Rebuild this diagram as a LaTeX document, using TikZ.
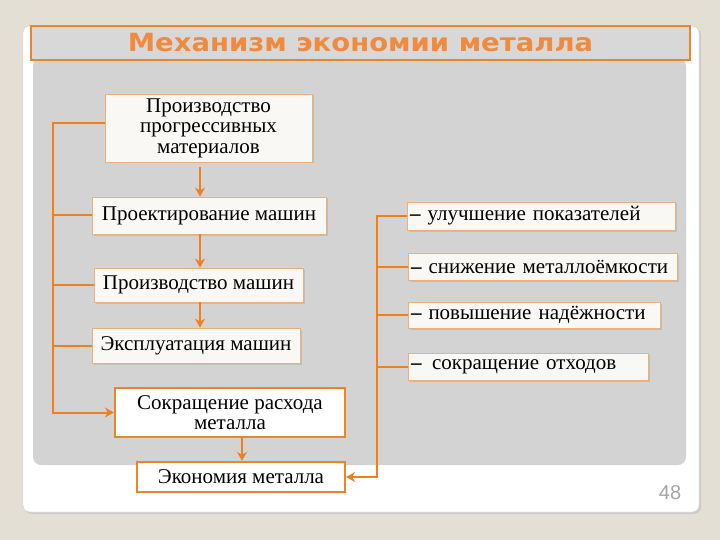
\documentclass[tikz,border=0pt]{standalone}
\usepackage{fontspec}
\setmainfont{Liberation Serif}
\newfontfamily\titlefont[FakeStretch=1.1]{DejaVu Sans}
\newfontfamily\numfont{Liberation Sans}
\usetikzlibrary{arrows.meta,shadows}
\definecolor{bgc}{HTML}{E4DFD5}
\definecolor{panelc}{HTML}{D3D3D3}
\definecolor{titlefill}{HTML}{D8D8D8}
\definecolor{orline}{HTML}{F07F1E}
\definecolor{orborder}{HTML}{EDB07A}
\definecolor{orthick}{HTML}{E8862A}
\definecolor{titleor}{HTML}{F08A3E}
\definecolor{boxfill}{HTML}{FAF8F5}
\tikzset{
  sbox/.style={draw=orborder, fill=boxfill, line width=0.8pt, inner sep=0pt,
    font=\fontsize{21}{20.5}\selectfont, align=center,
    drop shadow={opacity=0.25, shadow xshift=1.5pt, shadow yshift=-1.5pt}},
  tbox/.style={draw=orthick, fill=white, line width=2.2pt, inner sep=0pt,
    font=\fontsize{21}{20.5}\selectfont, align=center},
  rbox/.style={draw=orborder, fill=boxfill, line width=0.8pt, inner xsep=3pt, inner ysep=0pt,
    font=\fontsize{21}{20.5}\selectfont, align=left,
    drop shadow={opacity=0.25, shadow xshift=1.5pt, shadow yshift=-1.5pt}},
  conn/.style={draw=orline, line width=2pt},
  arr/.style={conn, -{Stealth[length=9pt,width=10pt]}}
}
\begin{document}
\begin{tikzpicture}[x=1pt,y=-1pt]
\useasboundingbox (0,0) rectangle (720,540);
\fill[bgc] (0,0) rectangle (720,540);
% slide card
\fill[gray!40, rounded corners=7] (25,28) rectangle (701,514);
\filldraw[fill=white, draw=gray!35, rounded corners=7] (23,26) rectangle (699,512);
% grey panel
\fill[panelc, rounded corners=8] (33,58) rectangle (686,465);
% title
\node (title) [draw=orthick, fill=titlefill, line width=1.5pt, minimum width=659pt, minimum height=34pt, inner sep=0pt,
  font=\titlefont\bfseries\fontsize{25}{26}\selectfont, text=titleor] at (360.5,43) {Механизм экономии металла};
% left chain
\node (b1) [sbox, minimum width=207pt, minimum height=68pt] at (208.5,128) {Производство\\прогрессивных\\материалов};
\node (b2) [sbox, minimum width=234pt, minimum height=37pt] at (209,215.5) {Проектирование машин};
\node (b3) [sbox, minimum width=209pt, minimum height=34pt] at (198.5,285) {Производство машин};
\node (b4) [sbox, minimum width=208pt, minimum height=35pt] at (196,345.5) {Эксплуатация машин};
\node (b5) [tbox, minimum width=230pt, minimum height=49pt] at (230,412.5) {Сокращение расхода\\металла};
\node (b6) [tbox, minimum width=208pt, minimum height=30pt] at (241,477) {Экономия металла};
% right boxes
\node (ra) [rbox, text width=262pt, minimum height=28pt] at (541,216) {{\bfseries –} улучшение показателей};
\node (rb) [rbox, text width=263pt, minimum height=27pt] at (542.5,266.5) {{\bfseries –} снижение металлоёмкости};
\node (rc) [rbox, text width=246pt, minimum height=26pt] at (534,315) {{\bfseries –} повышение надёжности};
\node (rd) [rbox, text width=234pt, minimum height=27pt] at (528,366.5) {{\bfseries –}\, сокращение отходов};
% page number
\node (num) [font=\numfont\fontsize{20}{20}\selectfont, text=gray!70] at (670,493) {48};
% coordinates
\coordinate (spineTop) at (53,123);
\coordinate (rx) at (377,216);
\coordinate (ax) at (200,0);
\coordinate (ax2) at (242,0);
% left spine
\draw[arr] ([yshift=5pt]b1.west) -- (spineTop) |- (b5.west);
\draw[conn] (b2.west) -- (spineTop |- b2.west);
\draw[conn] (b3.west) -- (spineTop |- b3.west);
\draw[conn] (b4.west) -- (spineTop |- b4.west);
% vertical arrows
\draw[arr] ([yshift=-5pt]ax |- b1.south) -- (ax |- b2.north);
\draw[arr] (ax |- b2.south) -- (ax |- b3.north);
\draw[arr] (ax |- b3.south) -- (ax |- b4.north);
\draw[arr] (ax2 |- b5.south) -- (ax2 |- b6.north);
% right spine
\draw[arr] (ra.west) -- (rx) |- (b6.east);
\draw[conn] (rb.west) -- (rx |- rb.west);
\draw[conn] (rc.west) -- (rx |- rc.west);
\draw[conn] (rd.west) -- (rx |- rd.west);
\end{tikzpicture}
\end{document}
